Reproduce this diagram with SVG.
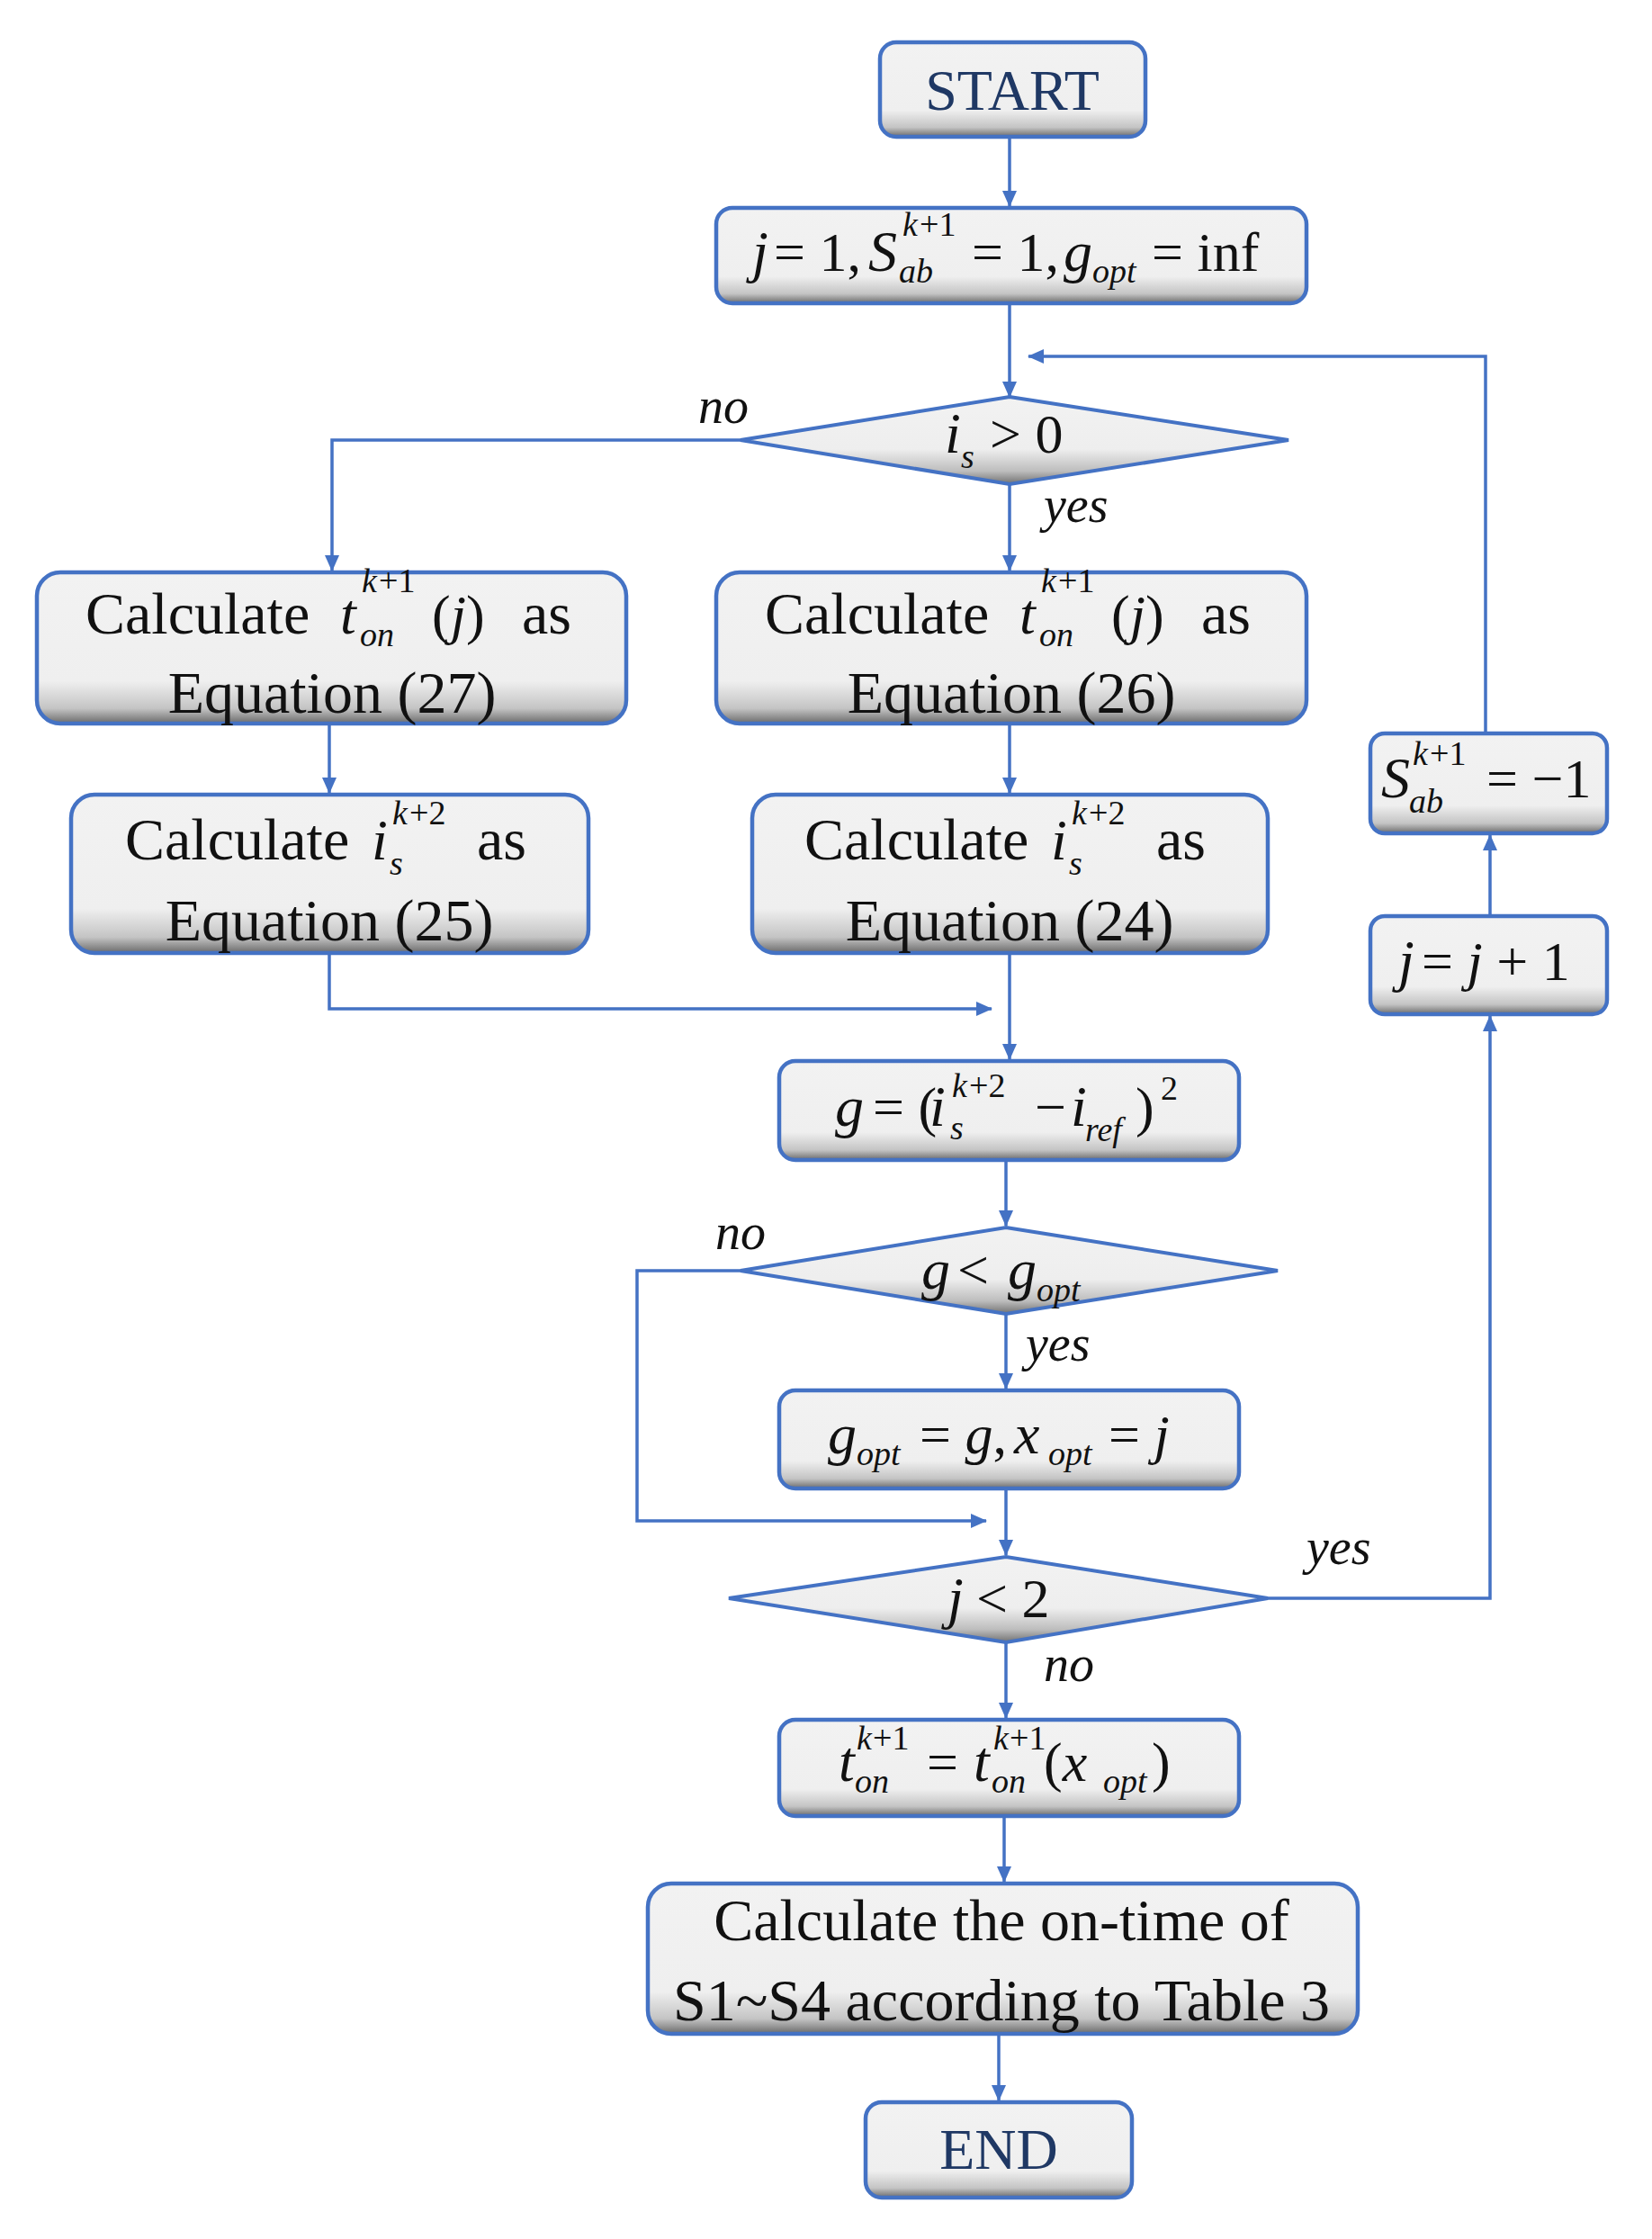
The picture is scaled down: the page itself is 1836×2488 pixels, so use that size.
<svg xmlns="http://www.w3.org/2000/svg" width="1836" height="2488" viewBox="0 0 1836 2488">
<defs>
<linearGradient id="gb" x1="0" y1="0" x2="0" y2="1">
<stop offset="0" stop-color="#f2f2f2"/><stop offset="0.72" stop-color="#efefef"/><stop offset="0.9" stop-color="#c4c4c4"/><stop offset="1" stop-color="#6a6a6a"/>
</linearGradient>
<linearGradient id="gd" x1="0" y1="0" x2="0" y2="1">
<stop offset="0" stop-color="#f2f2f2"/><stop offset="0.6" stop-color="#eeeeee"/><stop offset="0.85" stop-color="#bdbdbd"/><stop offset="1" stop-color="#707070"/>
</linearGradient>
<marker id="ar" markerWidth="18" markerHeight="16" refX="17" refY="8" orient="auto" markerUnits="userSpaceOnUse" viewBox="0 0 18 16">
<path d="M0,0 L18,8 L0,16 z" fill="#4472c4"/>
</marker>
<style>
.bx{fill:url(#gb);stroke:#4472c4;stroke-width:4.5}
.dm{fill:url(#gd);stroke:#4472c4;stroke-width:4}
.c{fill:none;stroke:#4472c4;stroke-width:3.5}
.a{marker-end:url(#ar)}
text{font-family:"Liberation Serif","DejaVu Serif",serif;fill:#111}
.t{font-size:66px}
.m{font-size:64px;font-style:italic}
.n{font-size:62px}
.s{font-size:38px;font-style:italic}
.sn{font-size:38px}
.lb{font-size:56px;font-style:italic}
.se{font-size:64px;fill:#1f3864}
.mid{text-anchor:middle}
</style>
</defs>
<g id="connectors">
<path class="c a" d="M1122,152 V229"/>
<path class="c a" d="M1122,337 V441"/>
<path class="c a" d="M823,489 H369 V634"/>
<path class="c a" d="M1122,538 V634"/>
<path class="c a" d="M366,804 V881"/>
<path class="c a" d="M1122,804 V881"/>
<path class="c a" d="M366,1059 V1121 H1102"/>
<path class="c a" d="M1122,1059 V1177"/>
<path class="c a" d="M1118,1289 V1362"/>
<path class="c a" d="M1118,1460 V1543"/>
<path class="c a" d="M823,1412 H708 V1690 H1096"/>
<path class="c a" d="M1118,1654 V1728"/>
<path class="c a" d="M1409,1776 H1656 V1129"/>
<path class="c a" d="M1656,1018 V928"/>
<path class="c a" d="M1651,815 L1651,396 H1143"/>
<path class="c a" d="M1118,1825 V1909"/>
<path class="c a" d="M1116,2018 V2091"/>
<path class="c a" d="M1110,2260 V2334"/>
</g>
<text class="lb" x="776" y="470">no</text>
<text class="lb" x="1160" y="580">yes</text>
<text class="lb" x="795" y="1388">no</text>
<text class="lb" x="1140" y="1512">yes</text>
<text class="lb" x="1452" y="1738">yes</text>
<text class="lb" x="1160" y="1868">no</text>
<g id="start"><rect class="bx" x="978" y="47" width="295" height="105" rx="18"/><text class="se mid" x="1125" y="122">START</text></g>
<g id="init"><rect class="bx" x="796" y="231" width="656" height="106" rx="18"/>
<text class="m" x="836" y="301">j</text><text class="n" x="860" y="301">= 1,</text>
<text class="m" x="965" y="301">S</text><text class="s" x="1003" y="262">k</text><text class="sn" x="1022" y="262">+1</text><text class="s" x="999" y="314">ab</text>
<text class="n" x="1080" y="301">= 1,</text><text class="m" x="1182" y="301">g</text><text class="s" x="1214" y="314">opt</text><text class="n" x="1280" y="301">= inf</text></g>
<g id="d1"><polygon class="dm" points="1122,441 1432,489 1122,538 823,489"/>
<text class="m" x="1050" y="503">i</text><text class="s" x="1068" y="520">s</text><text class="n" x="1100" y="503">&gt; 0</text></g>
<g id="calcL1"><rect class="bx" x="41" y="636" width="655" height="168" rx="26"/>
<text class="t" x="95" y="704">Calculate</text><text class="m" x="378" y="704">t</text><text class="s" x="402" y="658">k</text><text class="sn" x="421" y="658">+1</text><text class="s" x="400" y="718">on</text><text class="n" x="480" y="704">(<tspan font-style="italic">j</tspan>)</text><text class="t" x="580" y="704">as</text>
<text class="t mid" x="369" y="792">Equation (27)</text></g>
<g id="calcR1"><rect class="bx" x="796" y="636" width="656" height="168" rx="26"/>
<text class="t" x="850" y="704">Calculate</text><text class="m" x="1133" y="704">t</text><text class="s" x="1157" y="658">k</text><text class="sn" x="1176" y="658">+1</text><text class="s" x="1155" y="718">on</text><text class="n" x="1235" y="704">(<tspan font-style="italic">j</tspan>)</text><text class="t" x="1335" y="704">as</text>
<text class="t mid" x="1124" y="792">Equation (26)</text></g>
<g id="calcL2"><rect class="bx" x="79" y="883" width="575" height="176" rx="26"/>
<text class="t" x="139" y="955">Calculate</text><text class="m" x="413" y="955">i</text><text class="s" x="436" y="916">k</text><text class="sn" x="455" y="916">+2</text><text class="s" x="433" y="972">s</text><text class="t" x="530" y="955">as</text>
<text class="t mid" x="366" y="1045">Equation (25)</text></g>
<g id="calcR2"><rect class="bx" x="836" y="883" width="573" height="176" rx="26"/>
<text class="t" x="894" y="955">Calculate</text><text class="m" x="1168" y="955">i</text><text class="s" x="1191" y="916">k</text><text class="sn" x="1210" y="916">+2</text><text class="s" x="1188" y="972">s</text><text class="t" x="1285" y="955">as</text>
<text class="t mid" x="1122" y="1045">Equation (24)</text></g>
<g id="gbox"><rect class="bx" x="866" y="1179" width="511" height="110" rx="18"/>
<text class="m" x="928" y="1251">g</text><text class="n" x="970" y="1251">= (</text><text class="m" x="1033" y="1251">i</text><text class="s" x="1058" y="1219">k</text><text class="sn" x="1077" y="1219">+2</text><text class="s" x="1056" y="1266">s</text><text class="n" x="1150" y="1251">−</text><text class="m" x="1190" y="1251">i</text><text class="s" x="1206" y="1268">ref</text><text class="n" x="1262" y="1251">)</text><text class="sn" x="1290" y="1222">2</text></g>
<g id="d2"><polygon class="dm" points="1118,1364 1420,1412 1118,1460 823,1412"/>
<text class="m" x="1024" y="1432">g</text><text class="n" x="1064" y="1432">&lt;</text><text class="m" x="1120" y="1432">g</text><text class="s" x="1152" y="1446">opt</text></g>
<g id="gopt"><rect class="bx" x="866" y="1545" width="511" height="109" rx="18"/>
<text class="m" x="920" y="1615">g</text><text class="s" x="952" y="1628">opt</text><text class="n" x="1022" y="1615">= <tspan font-style="italic">g</tspan>,</text><text class="m" x="1127" y="1615">x</text><text class="s" x="1165" y="1628">opt</text><text class="n" x="1232" y="1615">= <tspan font-style="italic">j</tspan></text></g>
<g id="d3"><polygon class="dm" points="1118,1730 1409,1776 1118,1825 810,1776"/>
<text class="m" x="1053" y="1797">j</text><text class="n" x="1085" y="1797">&lt; 2</text></g>
<g id="ton"><rect class="bx" x="866" y="1911" width="511" height="107" rx="18"/>
<text class="m" x="932" y="1979">t</text><text class="s" x="952" y="1944">k</text><text class="sn" x="970" y="1944">+1</text><text class="s" x="950" y="1992">on</text><text class="n" x="1030" y="1979">=</text><text class="m" x="1082" y="1979">t</text><text class="s" x="1104" y="1944">k</text><text class="sn" x="1122" y="1944">+1</text><text class="s" x="1102" y="1992">on</text><text class="n" x="1160" y="1979">(<tspan font-style="italic">x</tspan></text><text class="s" x="1226" y="1992">opt</text><text class="n" x="1280" y="1979">)</text></g>
<g id="jinc"><rect class="bx" x="1523" y="1018" width="263" height="109" rx="16"/>
<text class="m" x="1554" y="1089">j</text><text class="n" x="1580" y="1089">= <tspan font-style="italic">j</tspan> + 1</text></g>
<g id="sab"><rect class="bx" x="1523" y="815" width="263" height="111" rx="16"/>
<text class="m" x="1535" y="886">S</text><text class="s" x="1570" y="850">k</text><text class="sn" x="1589" y="850">+1</text><text class="s" x="1566" y="903">ab</text><text class="n" x="1652" y="886">= −1</text></g>
<g id="ontime"><rect class="bx" x="720" y="2093" width="789" height="167" rx="26"/>
<text class="t mid" x="1113" y="2156">Calculate the on-time of</text>
<text class="t mid" x="1113" y="2245">S1~S4 according to Table 3</text></g>
<g id="end"><rect class="bx" x="962" y="2336" width="296" height="106" rx="18"/><text class="se mid" x="1110" y="2410">END</text></g>
</svg>
